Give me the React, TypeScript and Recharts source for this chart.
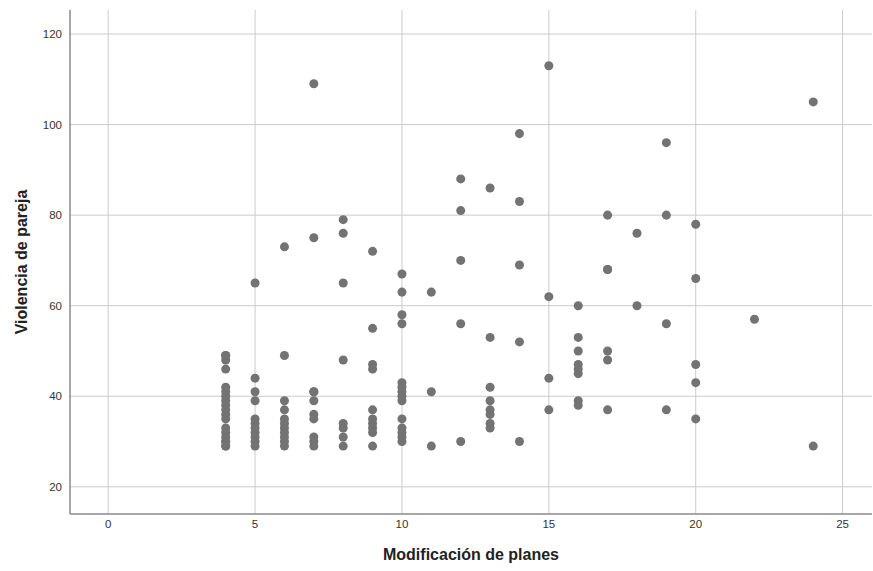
import { ScatterChart, Scatter, XAxis, YAxis, CartesianGrid, Label } from "recharts"

// Modificación de planes (x) -> valores de Violencia de pareja (y)
const planes = [4, 5, 6, 7, 8, 9, 10, 11, 12, 13, 14, 15, 16, 17, 18, 19, 20, 22, 24]
const violencia = [
    [49, 49, 48, 46, 42, 41, 40, 39, 38, 37, 36, 35, 33, 32, 31, 30, 30, 29, 29],
    [65, 44, 41, 39, 35, 34, 33, 32, 31, 30, 29],
    [73, 49, 39, 37, 35, 34, 33, 32, 31, 30, 29],
    [109, 75, 41, 41, 39, 36, 35, 31, 30, 29],
    [79, 76, 65, 48, 34, 33, 31, 29],
    [72, 55, 47, 46, 37, 35, 34, 33, 32, 29],
    [67, 63, 58, 56, 43, 42, 41, 40, 39, 35, 33, 32, 31, 30],
    [63, 41, 29],
    [88, 81, 70, 56, 30],
    [86, 53, 42, 39, 37, 36, 34, 33],
    [98, 83, 69, 52, 30],
    [113, 62, 44, 37],
    [60, 53, 50, 47, 46, 45, 39, 38],
    [80, 68, 68, 50, 48, 37],
    [76, 60],
    [96, 80, 56, 37],
    [78, 66, 47, 43, 35],
    [57],
    [105, 29],
]
const xTicks = [0, 5, 10, 15, 20, 25]
const yTicks = [20, 40, 60, 80, 100, 120]

const data = planes.flatMap((x, i) => violencia[i].map((y) => ({ x, y })))

const font = "Arial, 'Liberation Sans', sans-serif"
const tickStyle = { fill: "#333333", fontSize: 11.5, fontFamily: font }

export default function App() {
    return (
        <div style={{ position: "absolute", left: 0, top: 0, width: 873, height: 571, background: "#fff" }}>
            <ScatterChart width={873} height={571} margin={{ top: 10, right: 1, bottom: 0, left: 0 }}>
                <CartesianGrid stroke="#cbcbcb" strokeWidth={1} horizontalValues={yTicks} verticalValues={xTicks} />
                <XAxis
                    type="number"
                    dataKey="x"
                    domain={[-1.3, 26]}
                    ticks={xTicks}
                    allowDataOverflow
                    height={57}
                    tickLine={false}
                    tickSize={4}
                    tickMargin={2}
                    axisLine={{ stroke: "#8a8a8a", strokeWidth: 1.5 }}
                    tick={tickStyle}
                    stroke="#333333"
                >
                    <Label
                        content={({ viewBox }: any) => (
                            <text
                                x={viewBox.x + viewBox.width / 2}
                                y={554}
                                textAnchor="middle"
                                dominantBaseline="central"
                                fontFamily={font}
                                fontSize={16}
                                fontWeight="bold"
                                fill="#222"
                            >
                                Modificación de planes
                            </text>
                        )}
                    />
                </XAxis>
                <YAxis
                    type="number"
                    dataKey="y"
                    domain={[14, 125.3]}
                    ticks={yTicks}
                    allowDataOverflow
                    width={70}
                    tickLine={false}
                    axisLine={{ stroke: "#8a8a8a", strokeWidth: 1.5 }}
                    tick={tickStyle}
                    stroke="#333333"
                >
                    <Label
                        content={({ viewBox }: any) => {
                            const cy = viewBox.y + viewBox.height / 2
                            return (
                                <text
                                    x={21}
                                    y={cy}
                                    transform={`rotate(-90, 21, ${cy})`}
                                    textAnchor="middle"
                                    dominantBaseline="central"
                                    fontFamily={font}
                                    fontSize={16}
                                    fontWeight="bold"
                                    fill="#222"
                                >
                                    Violencia de pareja
                                </text>
                            )
                        }}
                    />
                </YAxis>
                <Scatter data={data} fill="#737373" isAnimationActive={false} />
            </ScatterChart>
        </div>
    )
}
